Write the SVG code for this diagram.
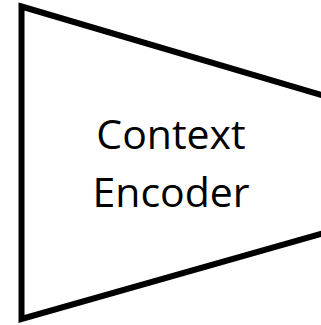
<svg xmlns="http://www.w3.org/2000/svg" width="321" height="325" viewBox="0 0 321 325">
<style>
.shape{fill:#fff;stroke:#000;stroke-width:6;stroke-linejoin:miter}
.lbl{font-family:"Open Sans","Liberation Sans",sans-serif;font-size:41px;fill:#000;text-anchor:middle}
</style>
<rect width="321" height="325" fill="#fff"/>
<g id="context-encoder">
<polygon class="shape" points="21.5,6.5 330,97.6 330,231.4 21.5,319"/>
<text class="lbl" x="171" y="149">Context</text>
<text class="lbl" x="171" y="207">Encoder</text>
</g>
<g id="connectors"/>
</svg>
